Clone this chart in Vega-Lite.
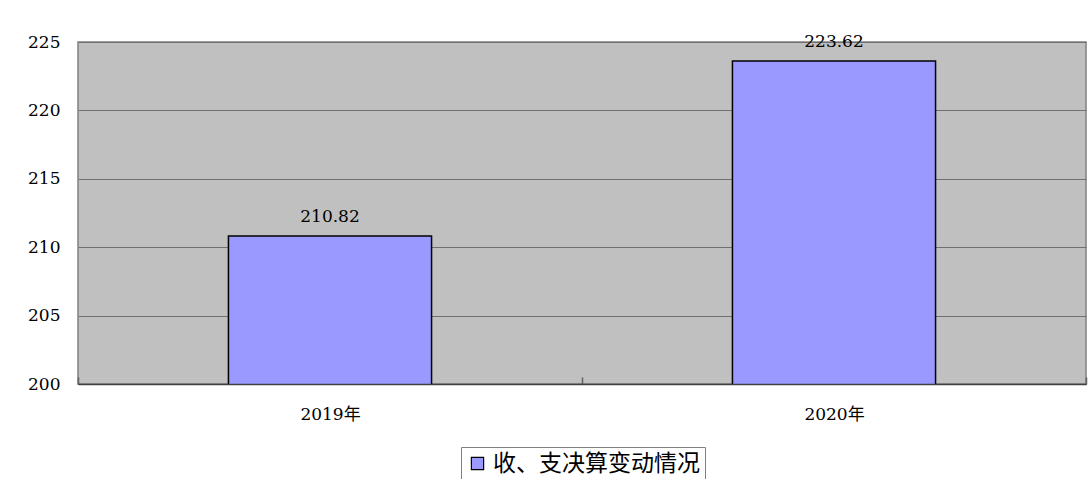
{
  "$schema": "https://vega.github.io/schema/vega-lite/v6.json",
  "width": 1008,
  "height": 342,
  "autosize": {"type": "none"},
  "padding": {"left": 78, "top": 42, "right": 3, "bottom": 95},
  "background": "white",
  "config": {
    "view": {"fill": "#C0C0C0", "stroke": "#808080", "strokeWidth": 1.5},
    "font": "DejaVu Serif, Noto Sans CJK SC"
  },
  "data": {
    "values": [
      {"year": "2019年", "value": 210.82, "series": "收、支决算变动情况"},
      {"year": "2020年", "value": 223.62, "series": "收、支决算变动情况"}
    ]
  },
  "layer": [
    {
      "mark": {"type": "bar", "stroke": "black", "strokeWidth": 1.5, "clip": true, "width": {"band": 0.403}},
      "encoding": {
        "x": {
          "field": "year", "type": "nominal", "sort": null,
          "scale": {"paddingInner": 0, "paddingOuter": 0},
          "axis": {
            "title": null, "labelAngle": 0, "labelFontSize": 17, "labelPadding": 29,
            "labelColor": "black", "labelFont": "DejaVu Serif, Noto Sans CJK SC",
            "domainColor": "#404040", "domainWidth": 1.5,
            "tickBand": "extent", "ticks": true, "tickSize": -7, "tickColor": "#606060", "tickWidth": 1.5,
            "zindex": 1,
            "grid": false
          }
        },
        "y": {
          "field": "value", "type": "quantitative",
          "scale": {"domain": [200, 225], "zero": false, "nice": false},
          "axis": {
            "title": null, "values": [200, 205, 210, 215, 220, 225],
            "labelFontSize": 17, "labelPadding": 18, "labelColor": "black",
            "labelFont": "DejaVu Serif", "tickSize": 0,
            "domain": false, "grid": true, "gridColor": "#707070", "gridWidth": 1.2
          }
        },
        "color": {
          "field": "series", "type": "nominal",
          "scale": {"range": ["#9999FF"]},
          "legend": {
            "title": null, "orient": "none", "legendX": 383, "legendY": 405,
            "strokeColor": "#808080", "padding": 5,
            "symbolType": "square", "symbolSize": 150, "symbolStrokeColor": "black",
            "symbolStrokeWidth": 1.2, "symbolFillColor": "#9999FF",
            "labelFontSize": 23, "labelFont": "Noto Sans CJK SC", "labelColor": "black",
            "labelLimit": 400
          }
        }
      }
    },
    {
      "mark": {"type": "text", "dy": -10, "fontSize": 17, "font": "DejaVu Serif", "color": "black", "baseline": "bottom"},
      "encoding": {
        "x": {"field": "year", "type": "nominal", "sort": null},
        "y": {"field": "value", "type": "quantitative"},
        "text": {"field": "value", "type": "quantitative", "format": ".2f"}
      }
    }
  ]
}
